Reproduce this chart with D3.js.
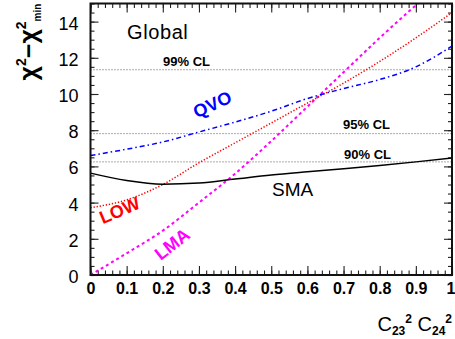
<!DOCTYPE html>
<html>
<head>
<meta charset="utf-8">
<script src="https://cdn.jsdelivr.net/npm/d3@7"></script>
<style>
  html, body { margin: 0; padding: 0; background: #fff; }
  svg { display: block; }
  text { font-family: "Liberation Sans", Arial, Helvetica, sans-serif; }
</style>
</head>
<body>
<svg id="chart" width="455" height="339"></svg>
<script>
// Scan variable C23^2 C24^2 and delta chi^2 for each solution
const xGrid   = [0, 0.1, 0.2, 0.3, 0.4, 0.5, 0.6, 0.7, 0.8, 0.9, 1.0];
const smaVals = [5.63, 5.22, 5.02, 5.08, 5.3, 5.52, 5.7, 5.87, 6.05, 6.25, 6.47];
const lowVals = [3.72, 4.15, 5.0, 6.2, 7.3, 8.4, 9.5, 10.6, 11.8, 13.1, 14.5];
const qvoVals = [6.6, 6.95, 7.35, 7.9, 8.45, 9.05, 9.75, 10.3, 10.8, 11.5, 12.65];
const lmaVals = [0, 1.2, 2.45, 4.0, 5.6, 7.4, 9.3, 11.2, 13.1, 14.9, 16.6];

// Confidence-level thresholds (3 d.o.f.)
const clNames  = ["99% CL", "95% CL", "90% CL"];
const clValues = [11.34, 7.81, 6.25];

const xTicks = [0, 0.1, 0.2, 0.3, 0.4, 0.5, 0.6, 0.7, 0.8, 0.9, 1];
const xTickLabels = ["0", "0.1", "0.2", "0.3", "0.4", "0.5", "0.6", "0.7", "0.8", "0.9", "1"];
const yTicks = [0, 2, 4, 6, 8, 10, 12, 14];

const svg = d3.select("#chart");
const x = d3.scaleLinear().domain([0, 1]).range([90.5, 452]);
const y = d3.scaleLinear().domain([0, 15]).range([275, 3.5]);

const plotLeft = x.range()[0], plotRight = x.range()[1];
const plotBottom = y.range()[0], plotTop = y.range()[1];

svg.append("clipPath").attr("id", "plot-clip")
  .append("rect")
  .attr("x", plotLeft).attr("y", plotTop)
  .attr("width", plotRight - plotLeft).attr("height", plotBottom - plotTop);

// Minor and major ticks on all four sides, pointing inwards
const xMinor = d3.range(0, 1.0001, 0.02);
const yMinor = d3.range(0, 15.0001, 0.5);

function styleAxis(g) {
  g.select(".domain").remove();
  g.selectAll(".tick line").attr("stroke", "#222").attr("stroke-width", 1.1);
}

svg.append("g").attr("transform", `translate(0,${plotBottom})`)
  .call(d3.axisBottom(x).tickValues(xMinor).tickSize(-4.5).tickFormat(""))
  .call(styleAxis);
const gxb = svg.append("g").attr("transform", `translate(0,${plotBottom})`)
  .call(d3.axisBottom(x).tickValues(xTicks).tickSize(-9).tickPadding(8)
        .tickFormat((d, i) => xTickLabels[i]))
  .call(styleAxis);
gxb.selectAll(".tick text")
  .attr("fill", "#000").attr("font-size", 16).attr("font-weight", "bold")
  .attr("dy", "0.71em")
  .attr("text-anchor", d => d === 1 ? "end" : "middle")
  .attr("x", d => d === 1 ? 3 : 0);

svg.append("g").attr("transform", `translate(0,${plotTop})`)
  .call(d3.axisTop(x).tickValues(xMinor).tickSize(-4.5).tickFormat(""))
  .call(styleAxis);
svg.append("g").attr("transform", `translate(0,${plotTop})`)
  .call(d3.axisTop(x).tickValues(xTicks).tickSize(-9).tickFormat(""))
  .call(styleAxis);

svg.append("g").attr("transform", `translate(${plotLeft},0)`)
  .call(d3.axisLeft(y).tickValues(yMinor).tickSize(-4).tickFormat(""))
  .call(styleAxis);
const gyl = svg.append("g").attr("transform", `translate(${plotLeft},0)`)
  .call(d3.axisLeft(y).tickValues(yTicks).tickSize(-8).tickPadding(12)
        .tickFormat(d3.format("d")))
  .call(styleAxis);
gyl.selectAll(".tick text")
  .attr("fill", "#000").attr("font-size", 18).attr("dy", "0.42em");

svg.append("g").attr("transform", `translate(${plotRight},0)`)
  .call(d3.axisRight(y).tickValues(yMinor).tickSize(-4).tickFormat(""))
  .call(styleAxis);
svg.append("g").attr("transform", `translate(${plotRight},0)`)
  .call(d3.axisRight(y).tickValues(yTicks).tickSize(-8).tickFormat(""))
  .call(styleAxis);

// Confidence-level reference lines
const clG = svg.append("g");
clValues.forEach((v, i) => {
  clG.append("line")
    .attr("x1", plotLeft).attr("x2", plotRight)
    .attr("y1", y(v)).attr("y2", y(v))
    .attr("stroke", "#555").attr("stroke-width", 1)
    .attr("stroke-dasharray", "1,2");
});
const clLabelX = [163, 343, 344];
const clLabelDy = [-3.5, -4.5, -3];
clNames.forEach((name, i) => {
  svg.append("text")
    .attr("x", clLabelX[i]).attr("y", y(clValues[i]) + clLabelDy[i])
    .attr("font-size", 13).attr("font-weight", "bold").attr("fill", "#000")
    .text(name);
});

// Curves
const line = d3.line()
  .x(d => x(d[0])).y(d => y(d[1]))
  .curve(d3.curveMonotoneX);

const curves = [
  { vals: lmaVals, color: "#ff00ff", width: 2,   dash: "3,3" },
  { vals: lowVals, color: "#ff0000", width: 1.5, dash: "1.3,1.8" },
  { vals: qvoVals, color: "#0000ff", width: 1.5, dash: "5,3,1.5,3" },
  { vals: smaVals, color: "#000000", width: 1.5, dash: null }
];
const curveG = svg.append("g").attr("clip-path", "url(#plot-clip)");
curves.forEach(c => {
  curveG.append("path")
    .datum(xGrid.map((xv, i) => [xv, c.vals[i]]))
    .attr("d", line)
    .attr("fill", "none")
    .attr("stroke", c.color)
    .attr("stroke-width", c.width)
    .attr("stroke-dasharray", c.dash);
});

// Frame
svg.append("rect")
  .attr("x", plotLeft).attr("y", plotTop)
  .attr("width", plotRight - plotLeft).attr("height", plotBottom - plotTop)
  .attr("fill", "none").attr("stroke", "#111").attr("stroke-width", 2);

// Curve labels
svg.append("text").attr("x", 127).attr("y", 39)
  .attr("font-size", 20).attr("letter-spacing", "0.6px").text("Global");

svg.append("text")
  .attr("transform", "translate(215,110) rotate(-25)")
  .attr("text-anchor", "middle")
  .attr("font-size", 18).attr("font-weight", "bold").attr("fill", "#0000ff")
  .text("QVO");
svg.append("text")
  .attr("transform", "translate(122,216) rotate(-23)")
  .attr("text-anchor", "middle")
  .attr("font-size", 18).attr("font-weight", "bold").attr("fill", "#ff0000")
  .text("LOW");
svg.append("text")
  .attr("transform", "translate(176,249) rotate(-38)")
  .attr("text-anchor", "middle")
  .attr("font-size", 18).attr("font-weight", "bold").attr("fill", "#ff00ff")
  .text("LMA");
svg.append("text").attr("x", 272).attr("y", 196)
  .attr("font-size", 19).attr("fill", "#000").text("SMA");

// Axis titles
const yt = svg.append("text")
  .attr("transform", "translate(37,42) rotate(-90)")
  .attr("text-anchor", "middle")
  .attr("font-size", 25).attr("font-weight", "bold").attr("fill", "#000");
yt.append("tspan").text("\u03C7");
yt.append("tspan").attr("font-size", 14).attr("dy", -11).text("2");
yt.append("tspan").attr("dy", 11).text("\u2212");
yt.append("tspan").text("\u03C7");
yt.append("tspan").attr("font-size", 14).attr("dy", -11).text("2");
yt.append("tspan").attr("font-size", 10).attr("dy", 15).text("min");

const xt = svg.append("text")
  .attr("x", 452).attr("y", 331)
  .attr("text-anchor", "end")
  .attr("font-size", 20).attr("fill", "#000");
xt.append("tspan").text("C");
xt.append("tspan").attr("font-size", 12).attr("font-weight", "bold").attr("dy", 4).text("23");
xt.append("tspan").attr("font-size", 12).attr("font-weight", "bold").attr("dy", -12).text("2");
xt.append("tspan").attr("dy", 8).text(" C");
xt.append("tspan").attr("font-size", 12).attr("font-weight", "bold").attr("dy", 4).text("24");
xt.append("tspan").attr("font-size", 12).attr("font-weight", "bold").attr("dy", -12).text("2");
</script>
</body>
</html>
